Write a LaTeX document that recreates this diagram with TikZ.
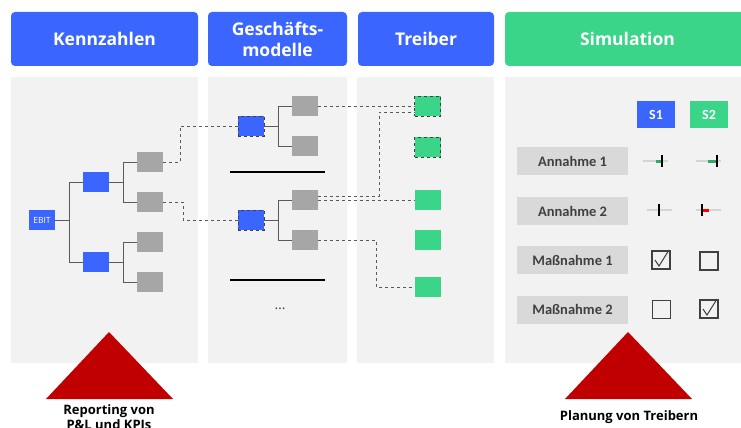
\documentclass[tikz,border=0pt]{standalone}
\usepackage{fontspec}
\setmainfont{Open Sans}
\newfontfamily\labelfont{Carlito}
\usetikzlibrary{positioning}

\definecolor{kblue}{HTML}{3A66FF}
\definecolor{kgreen}{HTML}{3AD588}
\definecolor{panelgrey}{HTML}{F2F2F2}
\definecolor{boxgrey}{HTML}{A6A6A6}
\definecolor{labelgrey}{HTML}{D9D9D9}
\definecolor{kred}{HTML}{C00000}
\definecolor{linegrey}{HTML}{5A5A5A}
\definecolor{textgrey}{HTML}{404040}
\definecolor{trackgrey}{HTML}{D4D4D4}

\tikzset{
  header/.style={fill=#1, rounded corners=4pt, text=white, inner sep=0pt,
    font=\bfseries\fontsize{17.5}{21}\selectfont, align=center, minimum height=54pt},
  panel/.style={fill=panelgrey, inner sep=0pt, minimum height=286pt},
  kbox/.style={fill=#1, inner sep=0pt, minimum width=26pt, minimum height=20pt},
  dashbox/.style={kbox=#1, draw=black!75, dashed},
  tree/.style={draw=linegrey, line width=1pt},
  link/.style={draw=black!65, dashed, line width=1pt},
  labelbox/.style={fill=labelgrey, inner sep=0pt, minimum width=111pt, minimum height=28pt,
    text=textgrey, font=\labelfont\bfseries\fontsize{14.5}{16}\selectfont},
  sbox/.style={fill=#1, inner sep=0pt, minimum width=38pt, minimum height=27pt,
    text=white, font=\labelfont\bfseries\fontsize{14}{16}\selectfont},
  chkbox/.style={draw=textgrey, line width=1.2pt, inner sep=0pt, minimum size=18pt},
  track/.style={draw=trackgrey, line width=2pt},
  tick/.style={draw=black, line width=1.3pt},
  check/.style={draw=textgrey, line width=1pt},
  caption/.style={font=\bfseries\fontsize{13}{15}\selectfont, align=center, inner sep=0pt}
}

\begin{document}
\begin{tikzpicture}[x=1pt, y=-1pt]
  \useasboundingbox (0,0) rectangle (741,428);

  % panels
  \node[panel, minimum width=187pt] (pkenn) at (104.5,220) {};
  \node[panel, minimum width=139pt] (pgesch) at (277.5,220) {};
  \node[panel, minimum width=137pt] (ptreib) at (425.5,220) {};
  \node[panel, minimum width=245pt] (psim) at (627.5,220) {};

  % headers
  \node[header=kblue, minimum width=187pt] (hkenn) at (104.5,39) {Kennzahlen};
  \node[header=kblue, minimum width=139pt] (hgesch) at (277.5,39) {Gesch\"afts-\\modelle};
  \node[header=kblue, minimum width=136pt] (htreib) at (426,39) {Treiber};
  \node[header=kgreen, minimum width=245pt] (hsim) at (627.5,39) {Simulation};

  % Kennzahlen tree
  \node[kbox=kblue, text=white, font=\fontsize{8.5}{9}\selectfont] (ebit) at (42,220) {EBIT};
  \node[kbox=kblue] (kb1) at (96,182) {};
  \node[kbox=kblue] (kb2) at (96,262) {};
  \node[kbox=boxgrey] (k1) at (150,162) {};
  \node[kbox=boxgrey] (k2) at (150,202) {};
  \node[kbox=boxgrey] (k3) at (150,242) {};
  \node[kbox=boxgrey] (k4) at (150,282) {};

  \draw[tree] (ebit.east) -- ++(14,0) coordinate (kjoin);
  \draw[tree] (kjoin) |- (kb1.west);
  \draw[tree] (kjoin) |- (kb2.west);
  \draw[tree] (kb1.east) -- ++(14,0) coordinate (kjoin1);
  \draw[tree] (kjoin1) |- (k1.west);
  \draw[tree] (kjoin1) |- (k2.west);
  \draw[tree] (kb2.east) -- ++(14,0) coordinate (kjoin2);
  \draw[tree] (kjoin2) |- (k3.west);
  \draw[tree] (kjoin2) |- (k4.west);

  % Geschaeftsmodelle tree
  \node[dashbox=kblue] (gb1) at (251,126) {};
  \node[dashbox=kblue] (gb2) at (251,220) {};
  \node[kbox=boxgrey] (g1) at (305,106) {};
  \node[kbox=boxgrey] (g2) at (305,146) {};
  \node[kbox=boxgrey] (g3) at (305,200) {};
  \node[kbox=boxgrey] (g4) at (305,240) {};

  \draw[tree] (gb1.east) -- ++(14,0) coordinate (gjoin1);
  \draw[tree] (gjoin1) |- (g1.west);
  \draw[tree] (gjoin1) |- (g2.west);
  \draw[tree] (gb2.east) -- ++(14,0) coordinate (gjoin2);
  \draw[tree] (gjoin2) |- (g3.west);
  \draw[tree] (gjoin2) |- (g4.west);

  \draw[line width=2.5pt] (230,172) -- (325,172);
  \draw[line width=2.5pt] (230,280) -- (325,280);
  \node[text=textgrey, font=\fontsize{14}{15}\selectfont] (gdots) at (280,309) {\ldots};

  % Treiber
  \node[dashbox=kgreen] (t1) at (427.5,106) {};
  \node[dashbox=kgreen] (t2) at (427.5,147) {};
  \node[kbox=kgreen] (t3) at (427.5,200) {};
  \node[kbox=kgreen] (t4) at (427.5,239.5) {};
  \node[kbox=kgreen] (t5) at (427.5,287) {};

  % links
  \draw[link] (k1.east) -- ++(17,0) |- (gb1.west);
  \draw[link] (k2.east) -- ++(20,0) |- (gb2.west);
  \draw[link] (g1.east) -- (t1.west);
  \draw[link] ([yshift=4pt]g3.east) -- ++(61,0) |- ([yshift=-6pt]t1.west);
  \draw[link] (g3.east) -- (t3.west);
  \draw[link] (g4.east) -- ++(58,0) |- (t5.west);

  % Simulation
  \node[sbox=kblue] (s1) at (656,114.5) {S1};
  \node[sbox=kgreen] (s2) at (709,114.5) {S2};
  \node[labelbox] (a1) at (572.5,161) {Annahme 1};
  \node[labelbox] (a2) at (572.5,211) {Annahme 2};
  \node[labelbox] (m1) at (572.5,260) {Ma\ss nahme 1};
  \node[labelbox] (m2) at (572.5,309.5) {Ma\ss nahme 2};

  % sliders
  \draw[track] (643,161) -- (668,161);
  \draw[draw=kgreen!80!black, line width=3pt] (656,161) -- (662,161);
  \draw[tick] (662,155) -- (662,167);
  \draw[track] (696,161) -- (721,161);
  \draw[draw=kgreen!80!black, line width=3pt] (708,161) -- (717,161);
  \draw[tick] (717,155) -- (717,167);
  \draw[track] (647,210) -- (672,210);
  \draw[tick] (659,204) -- (659,216);
  \draw[track] (696,210) -- (721,210);
  \draw[draw=red, line width=3pt] (702,210) -- (709,210);
  \draw[tick] (702,204) -- (702,216);

  % checkboxes
  \node[chkbox] (c11) at (661,260) {};
  \node[chkbox] (c12) at (709,261) {};
  \node[chkbox] (c21) at (661.5,309.5) {};
  \node[chkbox] (c22) at (709,309) {};
  \draw[check] ([shift={(-6,0)}]c11.center) -- ([shift={(-2,6)}]c11.center) -- ([shift={(8,-10)}]c11.center);
  \draw[check] ([shift={(-6,0)}]c22.center) -- ([shift={(-2,6)}]c22.center) -- ([shift={(8,-10)}]c22.center);

  % triangles and captions
  \fill[kred] (109,332) -- (173,399) -- (46,399) -- cycle;
  \fill[kred] (628,332) -- (692,399) -- (565,399) -- cycle;
  \node[caption, anchor=north] (capkenn) at (109,404) {Reporting von\\P\&L und KPIs};
  \node[caption] (capsim) at (629,417) {Planung von Treibern};
\end{tikzpicture}
\end{document}
